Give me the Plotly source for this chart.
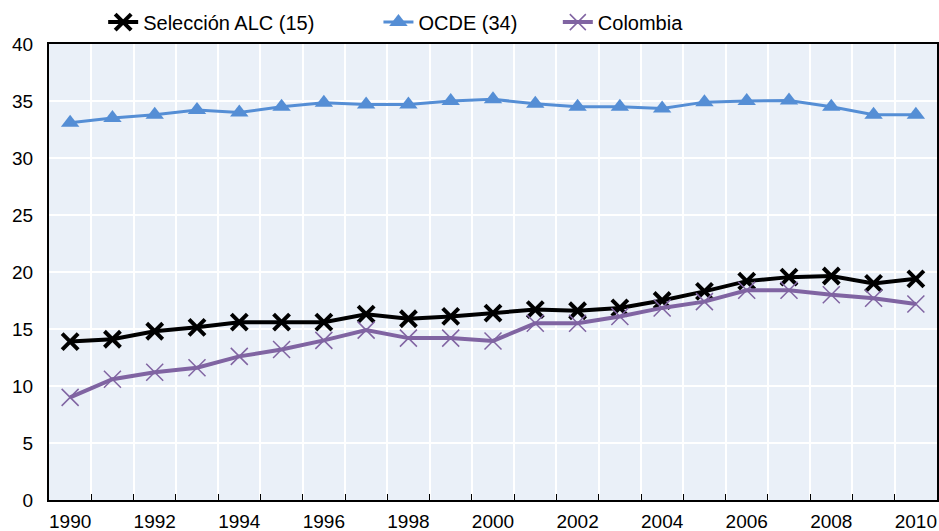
import plotly.graph_objects as go

years = list(range(1990, 2011))

alc = [13.9, 14.1, 14.8, 15.15, 15.6, 15.6, 15.6, 16.3, 15.9, 16.1, 16.4,
       16.7, 16.6, 16.85, 17.5, 18.3, 19.2, 19.55, 19.65, 19.0, 19.4]
ocde = [33.1, 33.5, 33.8, 34.2, 34.0, 34.5, 34.85, 34.7, 34.7, 35.0, 35.15,
        34.75, 34.5, 34.5, 34.35, 34.9, 35.0, 35.05, 34.5, 33.8, 33.8]
colombia = [9.0, 10.6, 11.2, 11.6, 12.6, 13.2, 14.0, 14.9, 14.2, 14.2, 13.95,
            15.5, 15.5, 16.1, 16.85, 17.4, 18.4, 18.4, 18.0, 17.7, 17.2]

font = "Liberation Sans, Arial, sans-serif"

fig = go.Figure()

fig.add_trace(go.Scatter(
    x=years, y=alc, name="Selección ALC (15)", mode="lines+markers",
    line=dict(color="#000000", width=4),
    marker=dict(symbol="x-thin", size=16, line=dict(color="#000000", width=4)),
    legend="legend"
))
fig.add_trace(go.Scatter(
    x=years, y=ocde, name="OCDE (34)", mode="lines+markers",
    line=dict(color="#558ED5", width=3),
    marker=dict(symbol="triangle-up", size=16, color="#558ED5"),
    legend="legend2"
))
fig.add_trace(go.Scatter(
    x=years, y=colombia, name="Colombia", mode="lines+markers",
    line=dict(color="#8064A2", width=4),
    marker=dict(symbol="x-thin", size=17, line=dict(color="#8064A2", width=1.5)),
    legend="legend3"
))

leg = dict(orientation="h", y=1.048, yanchor="middle", xanchor="left",
           font=dict(size=20), bgcolor="rgba(0,0,0,0)")

fig.update_layout(
    width=939, height=531,
    margin=dict(l=49, r=2, t=44, b=31),
    paper_bgcolor="white",
    plot_bgcolor="#EAF0F8",
    font=dict(family=font, size=20, color="#000000"),
    showlegend=True,
    legend=dict(leg, x=0.061),
    legend2=dict(leg, x=0.371),
    legend3=dict(leg, x=0.573),
)

fig.update_xaxes(
    range=[1989.5, 2010.5], automargin=False,
    tickmode="array", tickvals=years[::2], ticks="",
    ticklabelstandoff=3,
    showgrid=False, zeroline=False,
    showline=True, linecolor="#000000", linewidth=2, mirror=True,
    minor=dict(tickvals=[y + 0.5 for y in years[:-1]], showgrid=True,
               gridcolor="white", gridwidth=2, ticks="inside",
               ticklen=6, tickcolor="#000000", tickwidth=1),
    tickfont=dict(size=19),
)
fig.update_yaxes(
    range=[0, 40], dtick=5, automargin=False,
    ticklabelstandoff=10,
    showgrid=True, gridcolor="white", gridwidth=2,
    zeroline=False,
    showline=True, linecolor="#000000", linewidth=2, mirror=True,
    tickfont=dict(size=19),
)

# drop the default page margin so the chart sits at the window's corner
fig.write_html("out.html", config={"displayModeBar": False},
               post_script="document.body.style.margin='0';")
